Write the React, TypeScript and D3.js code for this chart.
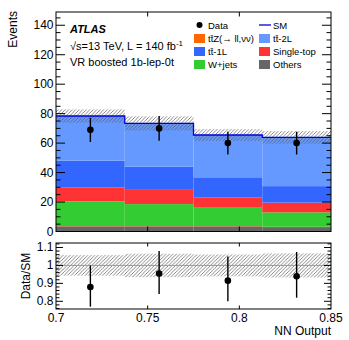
import React from "react";
import * as d3 from "d3";

// bin edges of NN output
const binEdges = [0.7, 0.7375, 0.775, 0.8125, 0.85];

// stacked backgrounds, bottom to top
const others = [3.5, 3.5, 3.5, 3.0];
const ttZ = [0.2, 0.2, 0.2, 0.2];
const wjets = [16.7, 14.9, 12.9, 9.8];
const singleTop = [9.4, 10.2, 6.6, 6.6];
const tt1L = [18.3, 15.2, 13.6, 11.2];
const tt2L = [30.3, 29.4, 28.7, 33.1];

const smUnc = [4.5, 4.8, 4.0, 4.3];
const dataVals = [69, 70, 60, 60];
const dataErr = [8.3, 8.4, 7.7, 7.7];

const ratioVals = [0.88, 0.955, 0.915, 0.94];
const ratioErrUp = [0.12, 0.125, 0.135, 0.135];
const ratioErrDn = [0.11, 0.115, 0.115, 0.12];

const xTicks = [0.7, 0.75, 0.8, 0.85];
const yTicks = [0, 20, 40, 60, 80, 100, 120, 140];
const rTicks = [0.8, 0.9, 1, 1.1];

const components = [
  { name: "Others", vals: others, color: "#666666" },
  { name: "ttZ", vals: ttZ, color: "#ff6600" },
  { name: "W+jets", vals: wjets, color: "#33cc33" },
  { name: "Single-top", vals: singleTop, color: "#ff3333" },
  { name: "tt-1L", vals: tt1L, color: "#3366ff" },
  { name: "tt-2L", vals: tt2L, color: "#6699ff" },
];

const L = 56, R = 331;
const mainTop = 12, mainBot = 231.5;
const ratTop = 243, ratBot = 309;
const font = "Liberation Sans, Arial, sans-serif";

export default function App() {
  const x = d3.scaleLinear().domain([0.7, 0.85]).range([L, R]);
  const y = d3.scaleLinear().domain([0, 149]).range([mainBot, mainTop]);
  const yr = d3.scaleLinear().domain([0.757, 1.125]).range([ratBot, ratTop]);

  const nb = dataVals.length;
  const bins = d3.range(nb);
  const stackRows = bins.map((i) => {
    const row: any = {};
    components.forEach((c) => (row[c.name] = c.vals[i]));
    return row;
  });
  const series = d3.stack().keys(components.map((c) => c.name))(stackRows);
  const sm = bins.map((i) => d3.sum(components, (c) => c.vals[i]));

  const smPath = d3.path();
  bins.forEach((i) => {
    if (i === 0) smPath.moveTo(x(binEdges[0]), y(sm[0]));
    else smPath.lineTo(x(binEdges[i]), y(sm[i]));
    smPath.lineTo(x(binEdges[i + 1]), y(sm[i]));
  });

  const centers = bins.map((i) => (binEdges[i] + binEdges[i + 1]) / 2);

  const yMinor = d3.range(0, 149, 5);
  const rMinor = d3.range(0.76, 1.125, 0.02);

  const legendL = [
    { label: "Data", kind: "data" },
    { label: "tt̄Z(→ ll,νν)", color: "#ff6600" },
    { label: "tt̄-1L", color: "#3366ff" },
    { label: "W+jets", color: "#33cc33" },
  ];
  const legendR = [
    { label: "SM", kind: "line" },
    { label: "tt̄-2L", color: "#6699ff" },
    { label: "Single-top", color: "#ff3333" },
    { label: "Others", color: "#666666" },
  ];
  const rowsY = [25, 38.5, 51.5, 64.5];

  const legendItem = (it: any, lx: number, ly: number, k: string) => (
    <g key={k}>
      {it.kind === "data" && <circle cx={lx + 5.5} cy={ly} r={3} fill="#000" />}
      {it.kind === "line" && (
        <line x1={lx} x2={lx + 12} y1={ly} y2={ly} stroke="#0000dd" strokeWidth={1.3} />
      )}
      {!it.kind && <rect x={lx} y={ly - 4.5} width={11} height={9} fill={it.color} />}
      <text x={lx + 14} y={ly + 3.5} fontSize={9.5} fontFamily={font}>
        {it.label}
      </text>
    </g>
  );

  return (
    <svg
      width={349}
      height={340}
      style={{ position: "absolute", left: 0, top: 0, background: "#fff" }}
    >
      <defs>
        <pattern id="hatch" patternUnits="userSpaceOnUse" width={3.5} height={3.5}>
          <path
            d="M-1,1 l2,-2 M0,3.5 l3.5,-3.5 M2.5,4.5 l2,-2"
            stroke="#555"
            strokeWidth={0.7}
          />
        </pattern>
        <clipPath id="mainClip">
          <rect x={L} y={mainTop} width={R - L} height={mainBot - mainTop} />
        </clipPath>
        <clipPath id="ratClip">
          <rect x={L} y={ratTop} width={R - L} height={ratBot - ratTop} />
        </clipPath>
      </defs>

      {/* main panel */}
      <g clipPath="url(#mainClip)">
        {series.map((s, k) => (
          <g key={k} fill={components[k].color}>
            {s.map((d, i) => (
              <rect
                key={i}
                x={x(binEdges[i])}
                width={x(binEdges[i + 1]) - x(binEdges[i])}
                y={y(d[1])}
                height={Math.max(0, y(d[0]) - y(d[1]))}
              />
            ))}
          </g>
        ))}
        {bins.map((i) => (
          <rect
            key={i}
            x={x(binEdges[i])}
            width={x(binEdges[i + 1]) - x(binEdges[i])}
            y={y(sm[i] + smUnc[i])}
            height={y(sm[i] - smUnc[i]) - y(sm[i] + smUnc[i])}
            fill="url(#hatch)"
          />
        ))}
        <path d={smPath.toString()} fill="none" stroke="#0000dd" strokeWidth={1.3} />
        {bins.map((i) => (
          <g key={i}>
            <line
              x1={x(centers[i])}
              x2={x(centers[i])}
              y1={y(dataVals[i] - dataErr[i])}
              y2={y(dataVals[i] + dataErr[i])}
              stroke="#000"
              strokeWidth={1.4}
            />
            <circle cx={x(centers[i])} cy={y(dataVals[i])} r={3.3} fill="#000" />
          </g>
        ))}
      </g>

      {/* main axes */}
      <rect x={L} y={mainTop} width={R - L} height={mainBot - mainTop} fill="none" stroke="#000" strokeWidth={1} />
      {yMinor.map((v) => {
        const major = v % 20 === 0;
        const len = major ? 9 : 4.5;
        return (
          <g key={v} stroke="#000" strokeWidth={1}>
            <line x1={L} x2={L + len} y1={y(v)} y2={y(v)} />
            <line x1={R} x2={R - len} y1={y(v)} y2={y(v)} />
          </g>
        );
      })}
      {yTicks.map((v) => (
        <text key={v} x={L - 2.5} y={y(v) + 4} textAnchor="end" fontSize={12} fontFamily={font}>
          {v}
        </text>
      ))}
      {xTicks.slice(1, -1).map((v) => (
        <g key={v} stroke="#000" strokeWidth={1}>
          <line x1={x(v)} x2={x(v)} y1={mainBot} y2={mainBot - 5} />
          <line x1={x(v)} x2={x(v)} y1={mainTop} y2={mainTop + 4.5} />
          <line x1={x(v)} x2={x(v)} y1={ratBot} y2={ratBot - 3.5} />
          <line x1={x(v)} x2={x(v)} y1={ratTop} y2={ratTop + 3.5} />
        </g>
      ))}
      <text
        transform={`translate(17,11) rotate(-90)`}
        textAnchor="end"
        fontSize={12}
        fontFamily={font}
      >
        Events
      </text>

      {/* labels */}
      <text x={70} y={33} fontSize={11} fontWeight="bold" fontStyle="italic" fontFamily={font}>
        ATLAS
      </text>
      <text x={70} y={50} fontSize={11} fontFamily={font}>
        √s=13 TeV, L = 140 fb
        <tspan dy={-4} fontSize={8}>-1</tspan>
      </text>
      <text x={70} y={66} fontSize={11} fontFamily={font}>
        VR boosted 1b-lep-0t
      </text>

      {legendL.map((it, k) => legendItem(it, 194, rowsY[k], "l" + k))}
      {legendR.map((it, k) => legendItem(it, 259, rowsY[k], "r" + k))}

      {/* ratio panel */}
      <g clipPath="url(#ratClip)">
        {bins.map((i) => {
          const rel = smUnc[i] / sm[i];
          return (
            <rect
              key={i}
              x={x(binEdges[i])}
              width={x(binEdges[i + 1]) - x(binEdges[i])}
              y={yr(1 + rel)}
              height={yr(1 - rel) - yr(1 + rel)}
              fill="url(#hatch)"
            />
          );
        })}
        <line x1={L} x2={R} y1={yr(1)} y2={yr(1)} stroke="#999" strokeWidth={1} />
        {bins.map((i) => (
          <g key={i}>
            <line
              x1={x(centers[i])}
              x2={x(centers[i])}
              y1={yr(ratioVals[i] - ratioErrDn[i])}
              y2={yr(ratioVals[i] + ratioErrUp[i])}
              stroke="#000"
              strokeWidth={1.4}
            />
            <circle cx={x(centers[i])} cy={yr(ratioVals[i])} r={3.3} fill="#000" />
          </g>
        ))}
      </g>
      <rect x={L} y={ratTop} width={R - L} height={ratBot - ratTop} fill="none" stroke="#000" strokeWidth={1} />
      {rMinor.map((v, k) => {
        const major = Math.abs(Math.round(v * 10) - v * 10) < 1e-6;
        const len = major ? 7 : 3.5;
        return (
          <g key={k} stroke="#000" strokeWidth={1}>
            <line x1={L} x2={L + len} y1={yr(v)} y2={yr(v)} />
            <line x1={R} x2={R - len} y1={yr(v)} y2={yr(v)} />
          </g>
        );
      })}
      {rTicks.map((v) => (
        <text key={v} x={L - 2.5} y={yr(v) + 4} textAnchor="end" fontSize={12} fontFamily={font}>
          {v}
        </text>
      ))}
      {xTicks.map((v) => (
        <text key={v} x={x(v)} y={322} textAnchor="middle" fontSize={12} fontFamily={font}>
          {v}
        </text>
      ))}
      <text x={R} y={335} textAnchor="end" fontSize={12} fontFamily={font}>
        NN Output
      </text>
      <text
        transform={`translate(30,276) rotate(-90)`}
        textAnchor="middle"
        fontSize={12}
        fontFamily={font}
      >
        Data/SM
      </text>
    </svg>
  );
}
